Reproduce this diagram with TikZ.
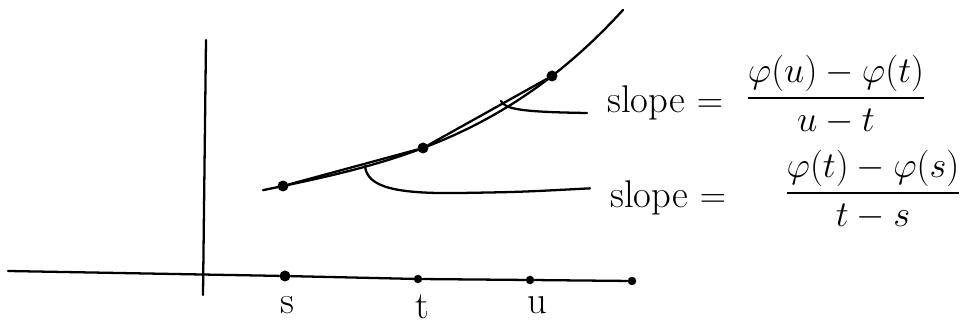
\documentclass[tikz,border=0pt]{standalone}
\usepackage{amsmath}
\usetikzlibrary{positioning}

\begin{document}
\begin{tikzpicture}[
        x=0.02cm, y=-0.02cm,
        linea/.style={line width=1.3pt, line cap=round, line join=round},
        punto/.style={circle, fill, inner sep=0pt, minimum size=2.2mm},
        puntito/.style={punto, minimum size=1.7mm},
        etiq/.style={font=\fontsize{22}{26}\selectfont, inner sep=1pt},
        pendiente/.style={font=\fontsize{22}{26}\selectfont, inner xsep=0.4cm},
        fraccion/.style={font=\fontsize{19.5}{23}\selectfont}
    ]
    \useasboundingbox (0,0) rectangle (965,324);

    % Ejes
    \coordinate (yarriba) at (206,40);
    \coordinate (yabajo)  at (203,295);
    \coordinate (xizq)    at (8,271);
    \draw[linea] (yabajo) -- (yarriba);

    \node[punto]   (ds)   at (285,276) {};
    \node[puntito] (dt)   at (418,279) {};
    \node[puntito] (du)   at (530,280) {};
    \node[puntito] (dfin) at (632,281) {};
    \draw[linea] (xizq) -- (ds) -- (dt) -- (du) -- (dfin);

    \node[etiq] (ls) at (287,305) {s};
    \node[etiq] (lt) at (422,307) {t};
    \node[etiq] (lu) at (537,305) {u};

    % --- Curva y cuerdas ---
    \draw[linea] plot[smooth, domain=263:623, samples=60]
        (\x, {186 - (20.988*((\x-283)/100) + 1.137*((\x-283)/100)^2
                    + 2.328*((\x-283)/100)^3)});

    \node[punto] (ps) at (283,186) {};
    \node[punto] (pt) at (423,148) {};
    \node[punto] (pu) at (552,76)  {};
    \draw[linea] (ps) -- (pt) -- (pu);

    % --- Pendientes ---
    \node[pendiente, anchor=base west] (slopeA) at (587,113) {slope $=$};
    \node[fraccion] (fracA) at (836,95)
        {$\dfrac{\varphi(u)-\varphi(t)}{u-t}$};

    \node[pendiente, anchor=base west] (slopeB) at (590,208) {slope $=$};
    \node[fraccion] (fracB) at (873,190)
        {$\dfrac{\varphi(t)-\varphi(s)}{t-s}$};

    \coordinate (cA) at (501,101);
    \coordinate (cB) at (365,166);
    \draw[linea] (cA) .. controls (505,109) and (520,112) .. (slopeA.base west);
    \draw[linea] (cB) .. controls (367,187) and (395,194) .. (460,193)
        .. controls (520,192) .. ([yshift=0.2cm]slopeB.west);

\end{tikzpicture}
\end{document}
